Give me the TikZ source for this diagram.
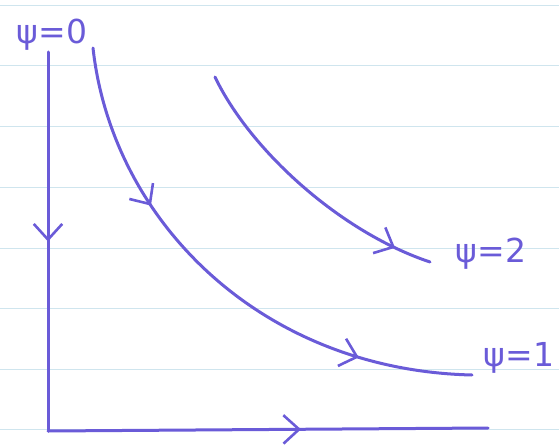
\documentclass[tikz,border=0pt]{standalone}
\usepackage{fontspec}
\setmainfont{DejaVu Sans}
\usetikzlibrary{arrows.meta, decorations.markings}
\definecolor{skInk}{HTML}{6A5BD8}
\definecolor{skRule}{HTML}{CFE5EE}
\tikzset{
  streamline/.style={draw=skInk, line width=3pt, line cap=round},
  midarrow/.style={postaction={decorate, decoration={markings,
      mark=at position #1 with {\arrow{Straight Barb[length=5.5mm, width=10mm, line width=2.6pt]}}}}},
  psilabel/.style={text=skInk, font=\fontsize{33}{36}\selectfont, inner sep=0pt},
  rule/.style={draw=skRule, line width=0.8pt},
}
\begin{document}
\begin{tikzpicture}[x=1pt, y=-1pt]
  \useasboundingbox (0,0) rectangle (559,444);
  % ruled paper
  \foreach \y in {5,65,126,187,248,308,369,429}
    \draw[rule] (0,\y) -- (559,\y);
  % wall and floor
  \coordinate (top) at (48,52);
  \coordinate (origin) at (48,431);
  \coordinate (right) at (488,428);
  \draw[streamline, midarrow=0.5] (top) -- (origin);
  \draw[streamline, midarrow=0.575] (origin) -- (right);
  % streamlines
  \coordinate (s1) at (93,48);
  \coordinate (e1) at (472,375);
  \coordinate (s2) at (215,77);
  \coordinate (e2) at (430,262);
  \draw[streamline, midarrow=0.31, midarrow=0.79]
    (s1) .. controls (112,220) and (260,370) .. (e1);
  \draw[streamline, midarrow=0.87]
    (s2) .. controls (250,150) and (340,232) .. (e2);
  % labels
  \node[psilabel] (psi0) at (52,35) {ψ=0};
  \node[psilabel] (psi2) at (491,254) {ψ=2};
  \node[psilabel] (psi1) at (519,358) {ψ=1};
\end{tikzpicture}
\end{document}
